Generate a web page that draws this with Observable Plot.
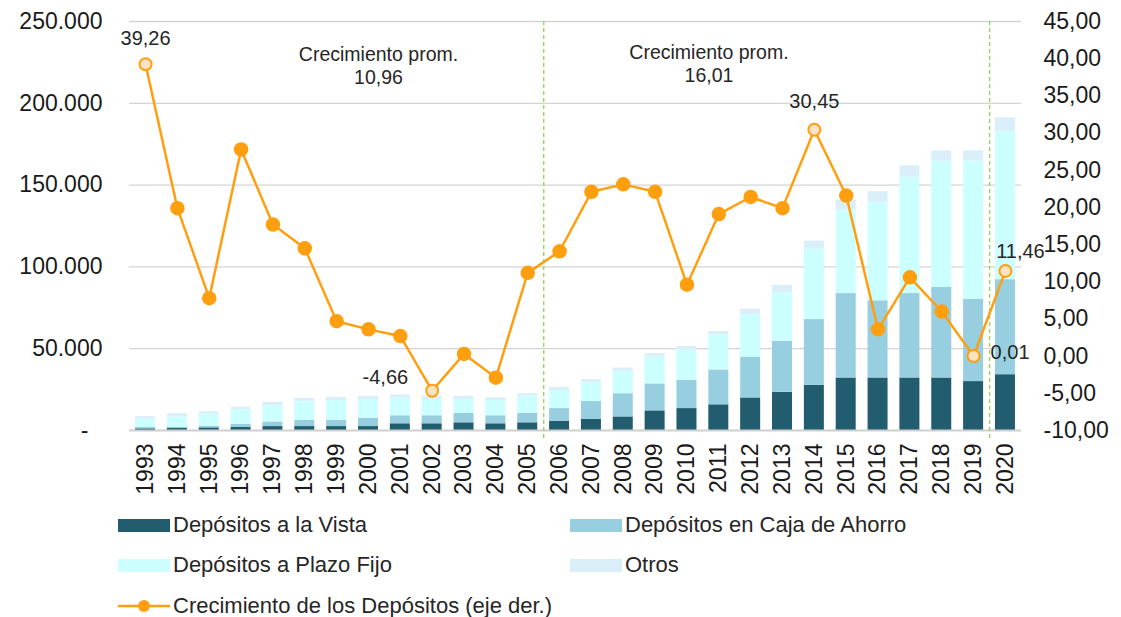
<!DOCTYPE html>
<html><head><meta charset="utf-8">
<script src="https://cdn.jsdelivr.net/npm/d3@7"></script>
<script src="https://cdn.jsdelivr.net/npm/@observablehq/plot@0.6"></script>
<style>
body{margin:0;background:#fff;font-family:"Liberation Sans",Arial,sans-serif;color:#262626}
#wrap{position:relative;width:1121px;height:617px;overflow:hidden;background:#fff}
#wrap svg{position:absolute;left:0;top:0}
.leg{position:absolute;display:flex;align-items:center;font-size:22px;height:26px;white-space:nowrap;color:#262626}
.sw{width:52px;height:13px;margin-right:3px}
</style></head><body><div id="wrap"></div>
<script>
// ---- data ----
const years = ["1993","1994","1995","1996","1997","1998","1999","2000","2001","2002","2003","2004","2005","2006","2007","2008","2009","2010","2011","2012","2013","2014","2015","2016","2017","2018","2019","2020"];
const seriesNames = ["Depósitos a la Vista","Depósitos en Caja de Ahorro","Depósitos a Plazo Fijo","Otros"];
const vista = [1000,1200,1600,2000,2400,2400,2400,2400,4100,4100,4700,4100,4700,5700,6900,8300,12000,13400,15700,19900,23400,27600,32100,32100,32100,32100,29900,34100];
const caja  = [800,800,1000,1800,2800,3700,3700,5100,4900,4900,5700,4900,5900,7700,10800,14200,16500,17300,21300,25000,31100,40200,51600,47200,51600,55300,50200,58100];
const plazo = [5100,6300,7300,8700,10000,11600,12200,11400,10800,10000,8500,9300,10400,11000,11400,13600,16500,18300,21500,25800,29900,43300,51000,60000,71100,77200,84600,90600];
const otros = [1600,2000,1600,1800,2000,1800,2000,2000,2000,2000,2000,1800,1600,2000,2000,2000,2000,2400,2000,3500,4300,4700,6100,6700,6900,6300,6300,8300];
const growth = [39.26,19.9,7.8,27.8,17.7,14.5,4.7,3.6,2.7,-4.66,0.3,-2.9,11.2,14.1,22.1,23.1,22.1,9.6,19.1,21.4,19.9,30.45,21.6,3.6,10.6,6.0,0.01,11.46];
const labeledYears = ["1993","2002","2014","2019","2020"];
const lineName = "Crecimiento de los Depósitos (eje der.)";
const leftTicks = [50000,100000,150000,200000,250000];
const rightTicks = [-10,-5,0,5,10,15,20,25,30,35,40,45];
const dividers = ["2005","2019"];
const periodLabel = "Crecimiento prom.";
const periodAvg = [10.96, 16.01];
const periodAt = ["2000","2010"];

// ---- styles ----
const seriesColors = ["#215d6e","#97cfe1","#ccffff","#dbeffa"];
const orange = "#ff9f0f";
const lightFill = "#fde3c4";

const loc = d3.formatLocale({decimal:",", thousands:".", grouping:[3], currency:["",""], minus:"-"});
const fThousands = loc.format(",.0f");
const f2 = loc.format(",.2f");

const lMax = 250000, rMin = -10, rMax = 45;
const toLeft = g => (g - rMin) / (rMax - rMin) * lMax;
const fromLeft = v => v / lMax * (rMax - rMin) + rMin;

const seriesVals = [vista, caja, plazo, otros];
const barTable = [];
years.forEach((yr, i) => seriesNames.forEach((s, k) => barTable.push({year: yr, series: s, value: seriesVals[k][i]})));
const growthData = years.map((yr, i) => ({year: yr, g: growth[i], hl: labeledYears.includes(yr)}));
const lbl = (yr, opts) => Plot.text(growthData.filter(d => d.year === yr), {x:"year", y: d => toLeft(d.g), text: d => f2(d.g), fontSize:20, fill:"#262626", ...opts});

const chart = Plot.plot({
  width:1121, height:510, marginTop:21, marginBottom:80, marginLeft:129, marginRight:100,
  style:{fontFamily:"Liberation Sans, Arial, sans-serif", fontSize:"22px", color:"#262626", background:"transparent", overflow:"visible"},
  x:{type:"band", domain: years, paddingInner:0.372, paddingOuter:0.19, round:false},
  y:{domain:[0, lMax]},
  color:{domain: seriesNames, range: seriesColors},
  marks:[
    Plot.gridY(leftTicks, {stroke:"#d4d4d4", strokeOpacity:1, strokeWidth:1.3}),
    Plot.barY(barTable, {x:"year", y:"value", fill:"series", order: seriesNames}),
    Plot.ruleY([0], {stroke:"#cfcfcf", strokeWidth:2}),
    Plot.ruleX(dividers, {x: d => d, dx: 16, stroke:"#9cd35f", strokeDasharray:"4,3", strokeWidth:1.4, insetBottom:-8}),
    Plot.axisX({tickRotate:-90, tickSize:0, tickPadding:13, fontSize:23, fill:"#1a1a1a", label:null}),
    Plot.axisY(leftTicks, {anchor:"left", tickSize:0, tickPadding:27, tickFormat: fThousands, fontSize:23, fill:"#1a1a1a", label:null}),
    Plot.text([0], {y: d => d, text: () => "-", frameAnchor:"left", dx:-41, textAnchor:"end", fontSize:23, fill:"#1a1a1a"}),
    Plot.axisY(rightTicks.map(toLeft), {anchor:"right", tickSize:0, tickPadding:22, tickFormat: v => f2(fromLeft(v)), fontSize:23, fill:"#1a1a1a", label:null}),
    Plot.line(growthData, {x:"year", y: d => toLeft(d.g), stroke: orange, strokeWidth:2.5}),
    Plot.dot(growthData.filter(d => !d.hl), {x:"year", y: d => toLeft(d.g), r:6.5, fill: orange, stroke: orange}),
    Plot.dot(growthData.filter(d => d.hl), {x:"year", y: d => toLeft(d.g), r:6, fill: lightFill, stroke: orange, strokeWidth:2}),
    lbl("1993", {dy:-26}),
    lbl("2002", {dx:-24, dy:-13, textAnchor:"end"}),
    lbl("2014", {dy:-28}),
    lbl("2019", {dx:17, dy:-3, textAnchor:"start"}),
    lbl("2020", {dx:15, dy:-19}),
    Plot.text(periodAvg, {x: (d, i) => periodAt[i], text: d => periodLabel + "\n" + f2(d), frameAnchor:"top", lineAnchor:"top", dx: 10, dy: 23, fontSize:19.5, lineHeight:1.18, fill:"#262626", filter: (d, i) => i === 0}),
    Plot.text(periodAvg, {x: (d, i) => periodAt[i], text: d => periodLabel + "\n" + f2(d), frameAnchor:"top", lineAnchor:"top", dx: 22, dy: 21, fontSize:19.5, lineHeight:1.18, fill:"#262626", filter: (d, i) => i === 1})
  ]
});
const wrap = document.getElementById("wrap");
wrap.appendChild(chart);

// ---- legend ----
const legItems = [
  {name: seriesNames[0], color: seriesColors[0], left:118, top:512},
  {name: seriesNames[1], color: seriesColors[1], left:570, top:512},
  {name: seriesNames[2], color: seriesColors[2], left:118, top:552},
  {name: seriesNames[3], color: seriesColors[3], left:570, top:552},
  {name: lineName, line:true, left:118, top:593}
];
for (const it of legItems) {
  const d = document.createElement("div");
  d.className = "leg";
  d.style.left = it.left + "px";
  d.style.top = it.top + "px";
  if (it.line) {
    d.innerHTML = `<svg width="52" height="16" style="margin-right:3px;position:static"><line x1="0" x2="52" y1="8" y2="8" stroke="${orange}" stroke-width="2.5"/><circle cx="26" cy="8" r="6" fill="${orange}"/></svg><span>${it.name}</span>`;
  } else {
    d.innerHTML = `<div class="sw" style="background:${it.color}"></div><span>${it.name}</span>`;
  }
  wrap.appendChild(d);
}
</script>
</body></html>
